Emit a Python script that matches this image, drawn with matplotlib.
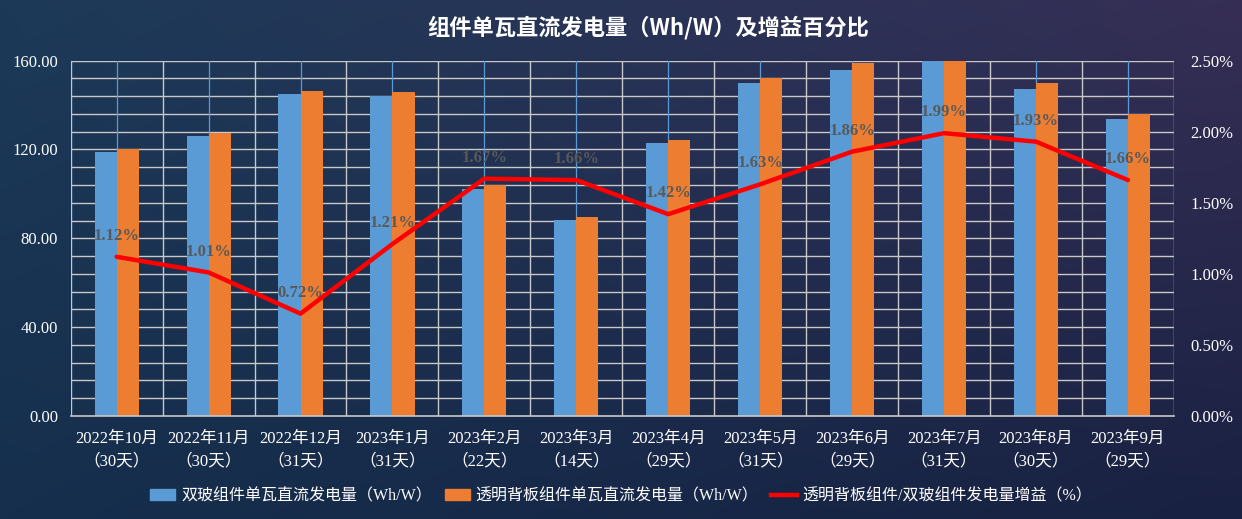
import matplotlib.pyplot as plt
import matplotlib.patches as mpatches
import matplotlib.lines as mlines
import numpy as np

months = ["2022年10月", "2022年11月", "2022年12月", "2023年1月", "2023年2月", "2023年3月",
          "2023年4月", "2023年5月", "2023年6月", "2023年7月", "2023年8月", "2023年9月"]
days = ["30天", "30天", "31天", "31天", "22天", "14天",
        "29天", "31天", "29天", "31天", "30天", "29天"]
double_glass = [118.7, 126.2, 145.1, 143.9, 102.3, 88.3, 123.0, 149.8, 155.9, 161.0, 147.4, 133.7]
transparent = [120.2, 127.5, 146.5, 145.7, 103.8, 89.7, 124.4, 152.3, 159.1, 164.2, 150.1, 136.0]
gain = [1.12, 1.01, 0.72, 1.21, 1.67, 1.66, 1.42, 1.63, 1.86, 1.99, 1.93, 1.66]

serif = ["Liberation Serif", "Noto Sans CJK SC"]
cjk = ["Noto Sans CJK SC", "DejaVu Sans"]

fig = plt.figure(figsize=(12.42, 5.19), dpi=100)

# background gradient
bg = fig.add_axes([0, 0, 1, 1], zorder=-10)
bg.axis("off")
h, w = 60, 120
yy, xx = np.mgrid[0:1:h * 1j, 0:1:w * 1j]
top_l = np.array([0x1c, 0x3a, 0x58]) / 255
bot_l = np.array([0x15, 0x2f, 0x4d]) / 255
top_r = np.array([0x36, 0x2e, 0x55]) / 255
bot_r = np.array([0x19, 0x21, 0x42]) / 255
img = ((1 - xx)[..., None] * ((1 - yy)[..., None] * top_l + yy[..., None] * bot_l)
       + xx[..., None] * ((1 - yy)[..., None] * top_r + yy[..., None] * bot_r))
bg.imshow(img, aspect="auto", extent=[0, 1, 0, 1], interpolation="bicubic")
bg.set_xlim(0, 1)
bg.set_ylim(0, 1)

ax = fig.add_axes([0.0569, 0.1985, 0.8883, 0.6846])
ax.set_facecolor("none")
x = np.arange(len(months))
bw = 0.24

ax.set_xlim(-0.5, len(months) - 0.5)
ax.set_ylim(0, 160)
for yv in np.arange(8, 161, 8):
    ax.axhline(yv, color="#c8c8c8", lw=1.0, zorder=0)
for xv in np.arange(-0.5, len(months) + 0.5, 1):
    ax.axvline(xv, color="#c8c8c8", lw=1.0, zorder=0)
for xv in x:
    ax.axvline(xv, color="#5b9bd5", lw=0.9, zorder=0.5)

ax.bar(x - bw / 2, double_glass, bw, color="#5b9bd5", zorder=2)
ax.bar(x + bw / 2, transparent, bw, color="#ed7d31", zorder=2)

ax.set_yticks(np.arange(0, 161, 40))
ax.set_yticklabels(["%.2f" % v for v in np.arange(0, 161, 40)],
                   family=serif, fontsize=12, color="white")
ax.set_xticks(x)
ax.set_xticklabels(["%s\n（%s）" % (m, d) for m, d in zip(months, days)],
                   family=serif, fontsize=12, color="white", linespacing=1.55)
ax.tick_params(axis="both", length=0)
ax.tick_params(axis="y", pad=9)
ax.tick_params(axis="x", pad=11)
for s in ["top", "right", "left"]:
    ax.spines[s].set_visible(False)
ax.spines["bottom"].set_color("#c8c8c8")
ax.spines["bottom"].set_linewidth(1.2)

ax2 = ax.twinx()
ax2.set_ylim(0, 2.5)
ax2.plot(x, gain, color="#ff0000", lw=3.2, zorder=5, solid_capstyle="round")
for xi, g in zip(x, gain):
    ax2.annotate("%.2f%%" % g, (xi, g), xytext=(0, 15), textcoords="offset points",
                 ha="center", va="center", fontsize=12, fontweight="bold",
                 color="#595959", family=serif)
ax2.set_yticks(np.arange(0, 2.51, 0.5))
ax2.set_yticklabels(["%.2f%%" % v for v in np.arange(0, 2.51, 0.5)],
                    family=serif, fontsize=12, color="white")
ax2.tick_params(axis="y", length=0, pad=12)
for s in ["top", "right", "left", "bottom"]:
    ax2.spines[s].set_visible(False)

handles = [mpatches.Patch(color="#5b9bd5", label="双玻组件单瓦直流发电量（Wh/W）"),
           mpatches.Patch(color="#ed7d31", label="透明背板组件单瓦直流发电量（Wh/W）"),
           mlines.Line2D([], [], color="#ff0000", lw=3.2, label="透明背板组件/双玻组件发电量增益（%）")]
leg = fig.legend(handles=handles, loc="center", bbox_to_anchor=(0.5, 0.044), ncol=3,
                 frameon=False, handlelength=1.6, handleheight=0.6, columnspacing=0.8,
                 handletextpad=0.35, prop={"family": serif, "size": 11.5})
for t in leg.get_texts():
    t.set_color("white")

fig.text(0.522, 0.946, "组件单瓦直流发电量（Wh/W）及增益百分比", ha="center", va="center",
         fontsize=16, fontweight="bold", color="white", family=cjk)

fig.savefig("out.png", dpi=100)
